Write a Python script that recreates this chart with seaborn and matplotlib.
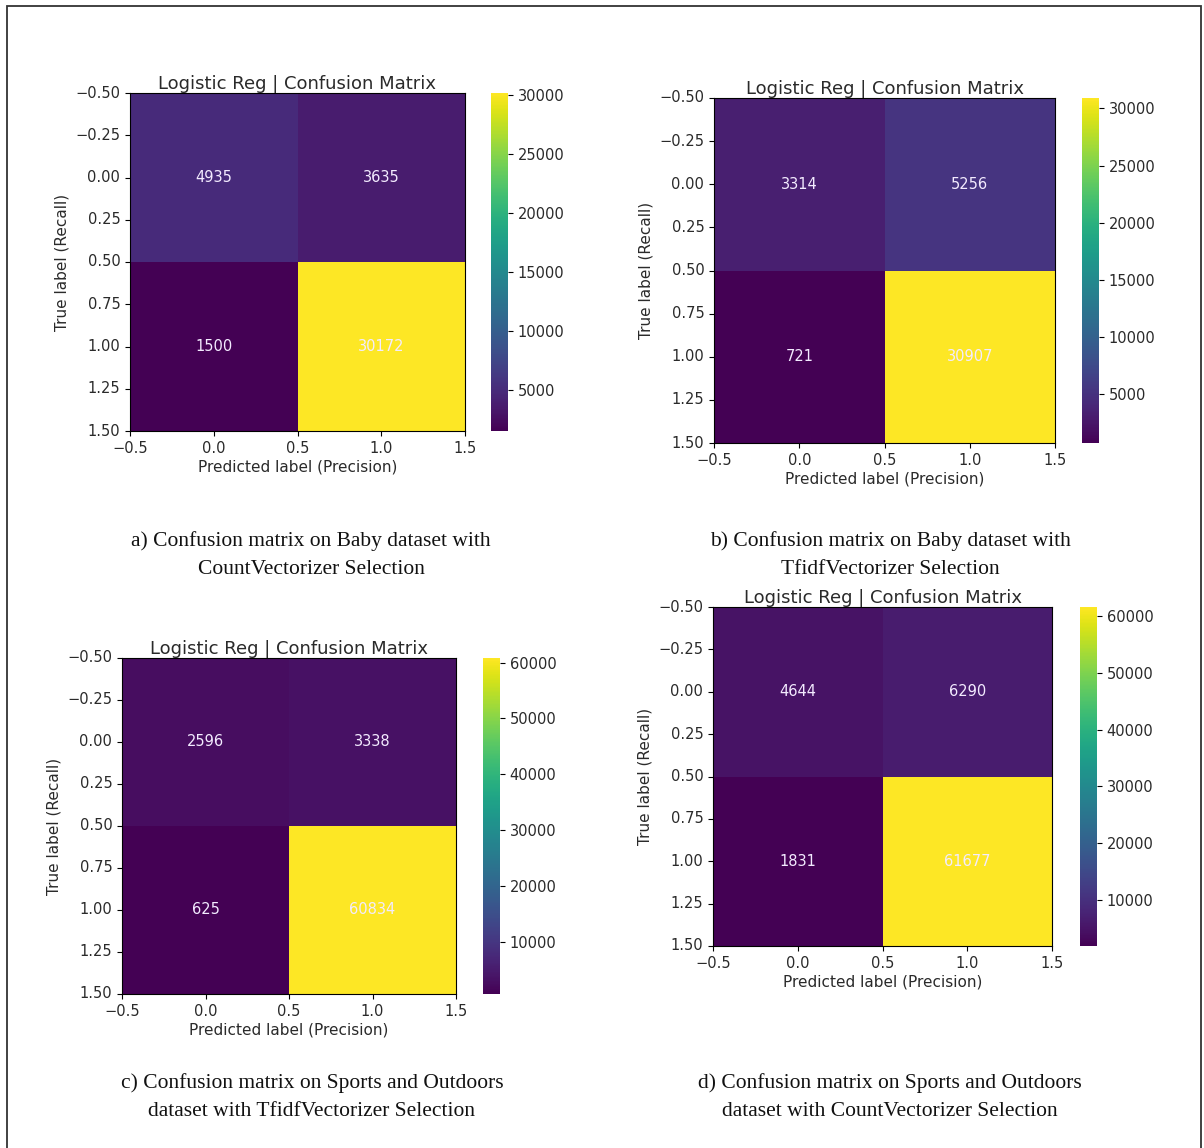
import numpy as np
import pandas as pd
import seaborn as sns
import matplotlib.pyplot as plt
from matplotlib.ticker import FuncFormatter
from matplotlib.patches import Rectangle

# confusion matrices (rows = true, cols = predicted)
cm_baby_count = [[4935, 3635], [1500, 30172]]
cm_baby_tfidf = [[3314, 5256], [721, 30907]]
cm_sports_tfidf = [[2596, 3338], [625, 60834]]
cm_sports_count = [[4644, 6290], [1831, 61677]]

captions = [
    ("a) Confusion matrix on Baby dataset with", "CountVectorizer Selection"),
    ("b) Confusion matrix on Baby dataset with", "TfidfVectorizer Selection"),
    ("c) Confusion matrix on Sports and Outdoors", "dataset with TfidfVectorizer Selection"),
    ("d) Confusion matrix on Sports and Outdoors", "dataset with CountVectorizer Selection"),
]

W, H = 1204, 1148


def box(x0, y0, x1, y1):
    return [x0 / W, 1 - y1 / H, (x1 - x0) / W, (y1 - y0) / H]


# pixel layout: axes box, colorbar x-range, caption centre x, caption y's
panels = [
    (cm_baby_count, (130, 93, 465, 431), (491, 508), 311, (541, 570)),
    (cm_baby_tfidf, (714, 98, 1055, 443), (1082, 1099), 890, (541, 570)),
    (cm_sports_tfidf, (122, 658, 456, 994), (483, 500), 312, (1083, 1112)),
    (cm_sports_count, (713, 607, 1052, 946), (1080, 1097), 890, (1083, 1112)),
]

fig = plt.figure(figsize=(W / 100, H / 100), dpi=100)
txt = "#2a2a2a"

for (cm, (x0, y0, x1, y1), (c0, c1), cx, cys), cap in zip(panels, captions):
    ax = fig.add_axes(box(x0, y0, x1, y1))
    cax = fig.add_axes(box(c0, y0, c1, y1))
    df = pd.DataFrame(cm)
    sns.heatmap(df, ax=ax, cbar_ax=cax, cmap="viridis", annot=True, fmt="d",
                annot_kws={"color": "#f3ebff", "size": 10.5})
    ax.set_xticks(np.arange(0, 2.01, 0.5))
    ax.set_yticks(np.arange(0, 2.01, 0.25))
    ax.xaxis.set_major_formatter(FuncFormatter(lambda v, p: f"{v - 0.5:.1f}".replace("-", "\u2212")))
    ax.yaxis.set_major_formatter(FuncFormatter(lambda v, p: f"{v - 0.5:.2f}".replace("-", "\u2212")))
    ax.tick_params(length=3.5, width=0.8, labelsize=10.5, labelcolor=txt, labelrotation=0)
    for s in ax.spines.values():
        s.set_visible(True)
        s.set_linewidth(0.8)
    ax.set_title("Logistic Reg | Confusion Matrix", fontsize=13, color=txt, pad=3)
    ax.set_xlabel("Predicted label (Precision)", fontsize=11, color=txt, labelpad=3)
    ax.set_ylabel("True label (Recall)", fontsize=11, color=txt)
    cax.tick_params(length=3.5, width=0.8, labelsize=10.5, labelcolor=txt)

    fig.text(cx / W, 1 - cys[0] / H, cap[0], ha="center", va="center",
             family="Liberation Serif", fontsize=15.5, color="#111")
    fig.text(cx / W, 1 - cys[1] / H, cap[1], ha="center", va="center",
             family="Liberation Serif", fontsize=15.5, color="#111")

# page frame
fig.patches.append(Rectangle((7 / W, -0.01), (1201 - 7) / W, 1.01 - 6 / H,
                             transform=fig.transFigure, fill=False,
                             edgecolor="#333333", linewidth=1.3))

fig.savefig("out.png", dpi=100)
